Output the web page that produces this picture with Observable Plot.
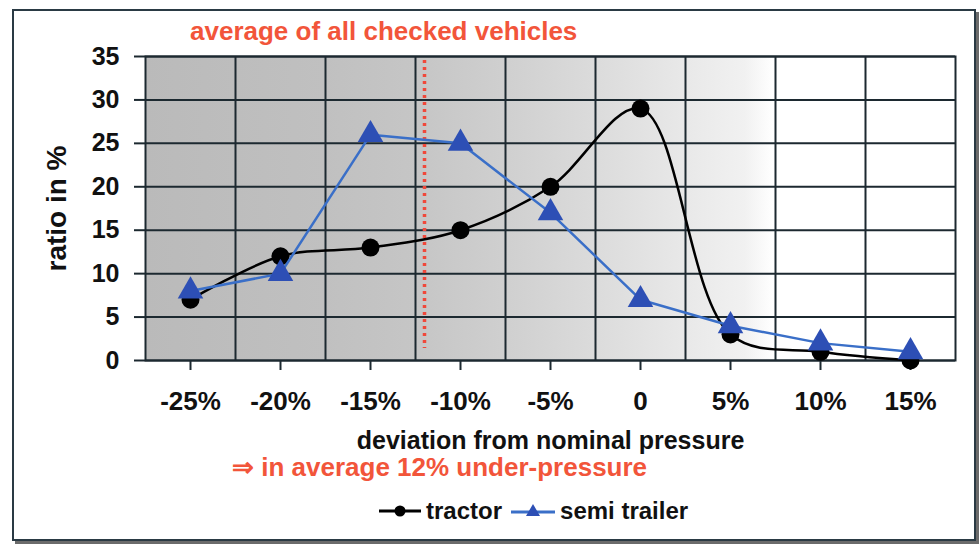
<!DOCTYPE html>
<html>
<head>
<meta charset="utf-8">
<script src="https://cdn.jsdelivr.net/npm/d3@7"></script>
<script src="https://cdn.jsdelivr.net/npm/@observablehq/plot@0.6"></script>
<style>
  html, body { margin: 0; padding: 0; background: #fff; }
  body { width: 979px; height: 545px; position: relative; overflow: hidden;
         font-family: "Liberation Sans", Arial, sans-serif; font-weight: bold; }
  #frame { position: absolute; left: 12px; top: 9px; width: 960px; height: 528px;
           border: 2px solid #2a3a44; box-shadow: 3px 3px 0 #6b6b6b; background: #fff; }
  #title { position: absolute; left: 190px; top: 16px; line-height: 30px; font-size: 26px; color: #f2553a; white-space: nowrap; }
  #chart { position: absolute; left: 0; top: 40px; }
  #note { position: absolute; left: 232px; top: 452px; line-height: 30px; font-size: 26px; color: #f2553a; white-space: nowrap; }
  #legend { position: absolute; left: 378px; top: 496px; height: 30px; display: flex; align-items: center; font-size: 24px; color: #111; white-space: nowrap; }
  #legend .item { display: flex; align-items: center; margin-right: 8px; }
  #legend svg { margin-right: 4px; }
</style>
</head>
<body>
<svg width="0" height="0" style="position:absolute">
  <defs>
    <linearGradient id="bg" x1="0" x2="1" y1="0" y2="0">
      <stop offset="0" stop-color="#bababa"/>
      <stop offset="0.22" stop-color="#c0c0c0"/>
      <stop offset="0.34" stop-color="#c6c6c6"/>
      <stop offset="0.46" stop-color="#d1d1d1"/>
      <stop offset="0.57" stop-color="#dddddd"/>
      <stop offset="0.67" stop-color="#e9e9e9"/>
      <stop offset="0.74" stop-color="#f1f1f1"/>
      <stop offset="0.775" stop-color="#ffffff"/>
      <stop offset="1" stop-color="#ffffff"/>
    </linearGradient>
  </defs>
</svg>
<div id="frame"></div>
<div id="title">average of all checked vehicles</div>
<div id="chart"></div>
<div id="note">⇒ in average 12% under-pressure</div>
<div id="legend"></div>
<script>
// ---- data ----
const categories = [-25, -20, -15, -10, -5, 0, 5, 10, 15];
const tractor = [7, 12, 13, 15, 20, 29, 3, 1, 0];
const semiTrailer = [8, 10, 26, 25, 17, 7, 4, 2, 1];
const yTicks = [0, 5, 10, 15, 20, 25, 30, 35];
const averageDeviation = -12;
const seriesNames = ["tractor", "semi trailer"];

// ---- derived ----
const step = categories[1] - categories[0];
const xDomain = [categories[0] - step / 2, categories[categories.length - 1] + step / 2];
const boundaries = categories.slice(1).map((c, i) => (c + categories[i]) / 2);
const tractorData = categories.map((c, i) => ({x: c, y: tractor[i]}));
const semiData = categories.map((c, i) => ({x: c, y: semiTrailer[i]}));

const dark = "#1c2930";
const red = "#f0483a";
const blueLine = "#3a6fc8";
const blueMark = "#2d4fb5";

const chart = Plot.plot({
  width: 979,
  height: 420,
  marginTop: 16,
  marginBottom: 100,
  marginLeft: 145,
  marginRight: 24,
  x: {domain: xDomain},
  y: {domain: [yTicks[0], yTicks[yTicks.length - 1]]},
  style: {fontFamily: '"Liberation Sans", Arial, sans-serif', fontSize: "25px", fontWeight: "bold", background: "transparent", color: "#111", overflow: "visible"},
  marks: [
    Plot.frame({fill: "url(#bg)"}),
    Plot.gridX({ticks: boundaries, stroke: dark, strokeOpacity: 1, strokeWidth: 2}),
    Plot.gridY({ticks: yTicks, stroke: dark, strokeOpacity: 1, strokeWidth: 2}),
    Plot.frame({stroke: dark, strokeWidth: 2}),
    Plot.axisY({ticks: yTicks, tickSize: 11, tickPadding: 15, stroke: dark, strokeWidth: 2, fontSize: 25, label: null}),
    Plot.axisY({ticks: [], fontSize: 28, label: "ratio in %", labelAnchor: "center", labelOffset: 99, labelArrow: "none"}),
    Plot.axisX({ticks: categories, tickSize: 10, tickPadding: 21, stroke: dark, strokeWidth: 2, fontSize: 26,
      tickFormat: d => d === 0 ? "0" : d + "%", label: null}),
    Plot.axisX({ticks: [], fontSize: 25, label: "deviation from nominal pressure", labelAnchor: "center", labelOffset: 88, labelArrow: "none"}),
    Plot.ruleX([averageDeviation], {stroke: red, strokeWidth: 3.5, strokeDasharray: "3,4", insetTop: 4, insetBottom: 12}),
    Plot.line(tractorData, {x: "x", y: "y", curve: "catmull-rom", stroke: "#000", strokeWidth: 2.5}),
    Plot.dot(tractorData, {x: "x", y: "y", r: 9, fill: "#000"}),
    Plot.line(semiData, {x: "x", y: "y", stroke: blueLine, strokeWidth: 2.5}),
    Plot.dot(semiData, {x: "x", y: "y", symbol: "triangle", r: 9.5, fill: blueMark})
  ]
});
document.getElementById("chart").appendChild(chart);

// ---- legend ----
const legend = document.getElementById("legend");
const swatches = [
  `<svg width="44" height="20"><line x1="1" y1="10" x2="43" y2="10" stroke="#000" stroke-width="3"/><circle cx="22" cy="10" r="5.5" fill="#000"/></svg>`,
  `<svg width="46" height="20"><line x1="1" y1="11" x2="45" y2="11" stroke="${blueLine}" stroke-width="3"/><path d="M23,3 L30,15 L16,15 Z" fill="${blueMark}"/></svg>`
];
seriesNames.forEach((name, i) => {
  const item = document.createElement("div");
  item.className = "item";
  item.innerHTML = swatches[i] + `<span>${name}</span>`;
  legend.appendChild(item);
});
</script>
</body>
</html>
